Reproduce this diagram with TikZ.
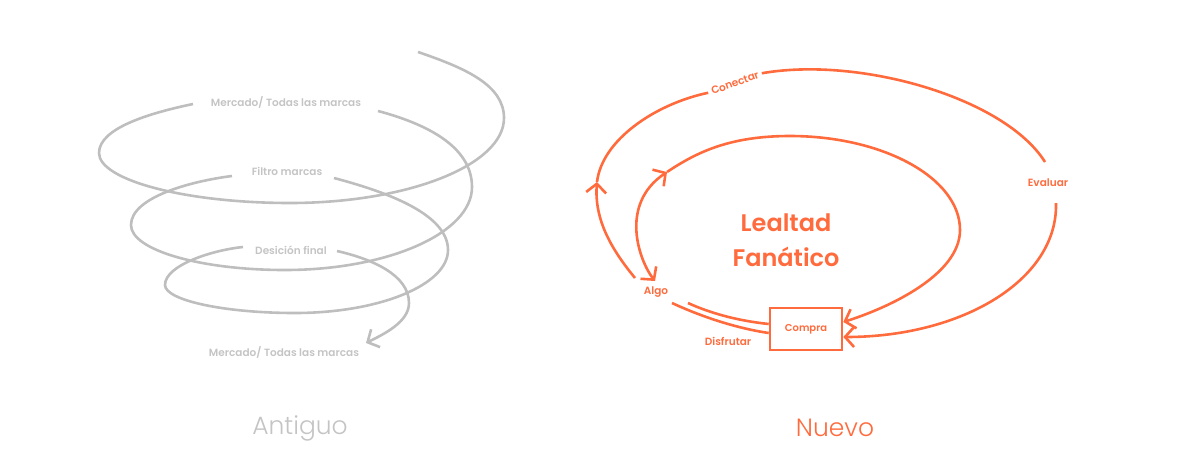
\documentclass[tikz,border=0pt]{standalone}
\usepackage{fontspec}
\setmainfont{Poppins}
\newfontfamily\semifont{Poppins SemiBold}
\newfontfamily\lightfont{Poppins Light}
\usetikzlibrary{arrows.meta}

\definecolor{spiralgray}{RGB}{190,190,190}
\definecolor{labelgray}{RGB}{196,196,196}
\definecolor{fanorange}{RGB}{255,107,61}

\begin{document}
\begin{tikzpicture}[x=1pt,y=-1pt,
	>={Straight Barb[length=9pt,width=20pt]},
	spiral/.style={spiralgray,line width=2.6pt},
	fanline/.style={fanorange,line width=2.6pt},
	glabel/.style={labelgray,font=\semifont\fontsize{10.5}{12}\selectfont},
	olabel/.style={fanorange,font=\semifont\fontsize{10.5}{12}\selectfont},
	title/.style={font=\lightfont\fontsize{25}{30}\selectfont}]
	\useasboundingbox (0,0) rectangle (1191,464);

	% Antiguo
	\node[glabel] (merc1) at (286,102) {Mercado/ Todas las marcas};
	\node[glabel] (filtro) at (287,171) {Filtro marcas};
	\node[glabel] (desic) at (291,250) {Desición final};
	\node[glabel] (merc2) at (284,352) {Mercado/ Todas las marcas};
	\draw[spiral] (418,52) .. controls (465,68) and (504,85) .. (504,118)
		.. controls (504,165) and (408,203) .. (290,203)
		.. controls (185,203) and (99,180) .. (99,153)
		.. controls (99,128) and (150,113) .. (193,104);
	\draw[spiral] (378,111) .. controls (423,123) and (472,145) .. (472,187)
		.. controls (472,233) and (388,270) .. (285,270)
		.. controls (200,270) and (131,250) .. (131,225)
		.. controls (131,197) and (192,181) .. (232,176);
	\draw[spiral] (334,178) .. controls (379,190) and (448,212) .. (448,250)
		.. controls (448,285) and (379,313) .. (295,313)
		.. controls (223,313) and (165,300) .. (165,285)
		.. controls (165,265) and (213,250) .. (243,247);
	\draw[spiral,->] (337,251) .. controls (372,259) and (409,275) .. (409,303)
		.. controls (409,322) and (384,334) .. (366,343);
	\node[title,labelgray] (antiguo) at (300,428) {Antiguo};

	% Nuevo
	\node[draw=fanorange,line width=2.6pt,minimum width=72pt,minimum height=42pt,
		fanorange,font=\semifont\fontsize{10}{12}\selectfont] (compra) at (806,329) {Compra};
	\node[olabel] (algo) at (656,292) {Algo};
	\node[olabel] (disf) at (728,341) {Disfrutar};
	\node[olabel,rotate=20] (conec) at (735,83) {Conectar};
	\node[olabel] (eval) at (1048,183) {Evaluar};
	\node[fanorange,align=center,font=\semifont\fontsize{24}{35}\selectfont] (lealtad) at (786,240) {Lealtad\\Fanático};
	\coordinate (outstart) at (635,278);
	\coordinate (outarrow) at (597,182);
	\coordinate (evtop) at (1045,162);
	\coordinate (evbot) at (1056,203);
	\coordinate (instart) at (655,281);
	\coordinate (inarrow) at (667,172);
	\coordinate (inhi) at ([yshift=7pt]compra.east);
	\coordinate (inlo) at ([yshift=-8pt]compra.east);
	\coordinate (dishi) at ([yshift=5pt]compra.west);
	\coordinate (dislo) at ([yshift=-4pt]compra.west);
	\draw[fanline,->] (outstart) .. controls (612,250) and (594,220) .. (outarrow);
	\draw[fanline] (outarrow) .. controls (602,140) and (655,104) .. (conec.west);
	\draw[fanline] (conec.east) .. controls (860,56) and (1005,98) .. (evtop);
	\draw[fanline,->] (evbot) .. controls (1058,280) and (962,337) .. (inlo);
	\draw[fanline,<->] (instart) .. controls (640,262) and (618,205) .. (inarrow);
	\draw[fanline,->] (inarrow) .. controls (697,152) and (730,136) .. (790,136)
		.. controls (883,136) and (960,178) .. (960,230)
		.. controls (960,275) and (888,308) .. (inhi);
	\draw[fanline] (672,303) .. controls (700,316) and (735,328) .. (dislo);
	\draw[fanline] (688,303) .. controls (712,314) and (740,321) .. (dishi);
	\node[title,fanorange] (nuevo) at (835,428) {Nuevo};
\end{tikzpicture}
\end{document}
